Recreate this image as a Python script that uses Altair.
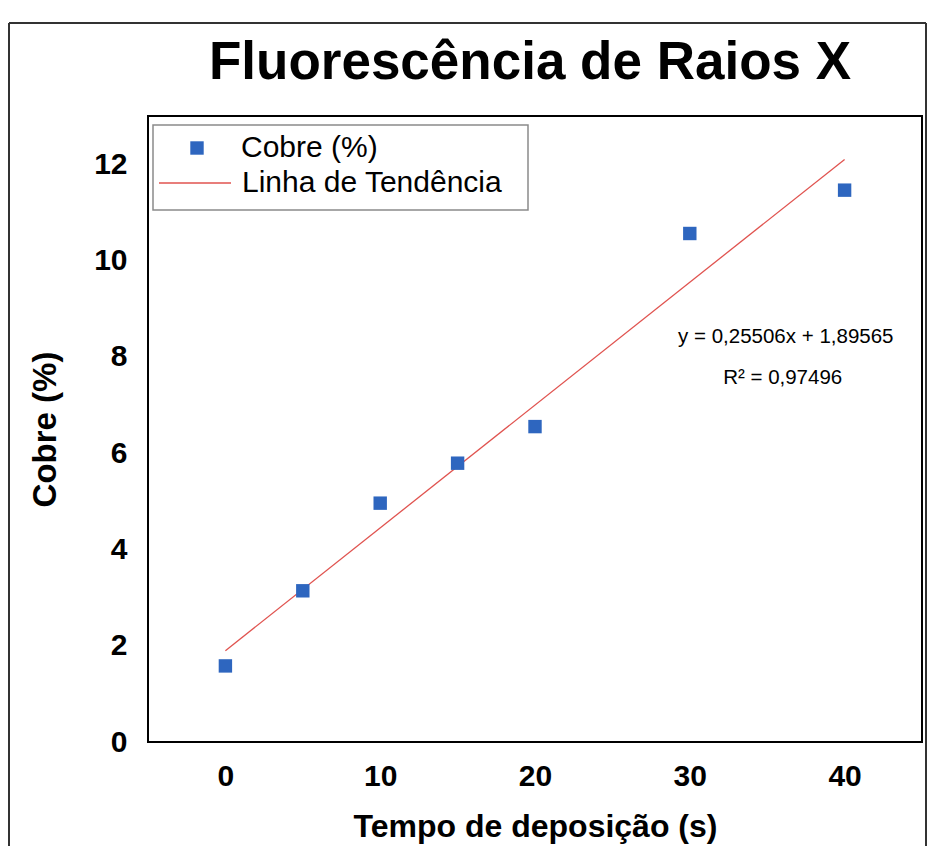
import altair as alt
import pandas as pd

# ---- data ----
tempo = [0, 5, 10, 15, 20, 30, 40]
cobre = [1.58, 3.14, 4.96, 5.79, 6.55, 10.56, 11.46]
trend_x = [0, 40]
trend_y = [1.89565, 12.09805]
eq_text = ["y = 0,25506x + 1,89565", "R² = 0,97496"]
eq_x = [36.2, 36.0]
eq_y = [8.41, 7.56]
x_ticks = [0, 10, 20, 30, 40]
y_ticks = [0, 2, 4, 6, 8, 10, 12]
series_pts = ["Cobre (%)"]
series_line = ["Linha de Tendência"]
chart_title = "Fluorescência de Raios X"

BLUE = "#2e66bf"
RED = "#e0534f"
FONT = "Liberation Sans"

W, H = 774, 626
PAD = {"left": 140, "top": 108, "right": 6, "bottom": 104}

pts = pd.DataFrame({"t": tempo, "c": cobre, "serie": series_pts[0]})
trend = pd.DataFrame({"t": trend_x, "c": trend_y, "serie": series_line[0]})
eq = pd.DataFrame({"t": eq_x, "c": eq_y, "txt": eq_text})
one = pd.DataFrame({"k": [0]})

xscale = alt.Scale(domain=[-5, 45], nice=False, zero=False)
yscale = alt.Scale(domain=[0, 13], nice=False)

x_enc = alt.X(
    "t:Q", scale=xscale, title="Tempo de deposição (s)",
    axis=alt.Axis(values=x_ticks, grid=False, ticks=False, domain=False,
                  labelFont=FONT, labelFontWeight="bold", labelFontSize=30,
                  labelColor="black", labelPadding=19,
                  titleFont=FONT, titleFontWeight="bold", titleFontSize=32,
                  titleColor="black", titlePadding=20),
)
y_enc = alt.Y(
    "c:Q", scale=yscale, title="Cobre (%)",
    axis=alt.Axis(values=y_ticks, grid=False, ticks=False, domain=False,
                  labelFont=FONT, labelFontWeight="bold", labelFontSize=30,
                  labelColor="black", labelPadding=21,
                  titleFont=FONT, titleFontWeight="bold", titleFontSize=33,
                  titleColor="black", titlePadding=31),
)

leg_common = dict(orient="none", title=None, labelFont=FONT, labelFontSize=30,
                  labelColor="black", padding=0, labelLimit=500)

points = alt.Chart(pts).mark_square(size=180, opacity=1, filled=True).encode(
    x=x_enc, y=y_enc,
    color=alt.Color("serie:N", scale=alt.Scale(domain=series_pts, range=[BLUE]),
                    legend=alt.Legend(legendX=34, legendY=17, symbolType="square",
                                      symbolSize=180, symbolOpacity=1,
                                      labelOffset=29, **leg_common)))

line = alt.Chart(trend).mark_line(strokeWidth=1.3).encode(
    x="t:Q", y="c:Q",
    color=alt.Color("serie:N", scale=alt.Scale(domain=series_line, range=[RED]),
                    legend=alt.Legend(legendX=10, legendY=30, symbolType="stroke",
                                      symbolSize=5184, symbolStrokeWidth=1.3,
                                      labelOffset=10, **leg_common)))

eq_marks = alt.Chart(eq).mark_text(font=FONT, fontSize=20.5, color="black",
                                   align="center", baseline="middle").encode(
    x="t:Q", y="c:Q", text="txt:N")

legend_box = alt.Chart(one).mark_rect(fill="white", stroke="#8a8a8a", strokeWidth=1.5).encode(
    x=alt.value(5), x2=alt.value(380), y=alt.value(9), y2=alt.value(94))

title_mark = alt.Chart(one).mark_text(
    text=chart_title, font=FONT, fontSize=53, fontWeight="bold", color="black",
    align="center", baseline="alphabetic").encode(
    x=alt.value(382), y=alt.value(-37))

frame_right_x = W + PAD["right"] - 2
frame_left = alt.Chart(one).mark_rule(color="#333", strokeWidth=2).encode(
    x=alt.value(-139), y=alt.value(-93), y2=alt.value(H + PAD["bottom"]))
frame_right = alt.Chart(one).mark_rule(color="#333", strokeWidth=2).encode(
    x=alt.value(frame_right_x), y=alt.value(-93), y2=alt.value(H + PAD["bottom"]))
frame_top = alt.Chart(one).mark_rule(color="#333", strokeWidth=2).encode(
    x=alt.value(-139), x2=alt.value(frame_right_x), y=alt.value(-93))

chart = alt.layer(
    frame_left, frame_right, frame_top, title_mark, legend_box,
    line, points, eq_marks,
).resolve_scale(color="independent").resolve_legend(color="independent").properties(
    width=W, height=H,
    autosize=alt.AutoSizeParams(type="none"),
    padding=PAD,
    background="white",
).configure_view(stroke="black", strokeWidth=2)

chart.save("out.html", embed_options={"renderer": "svg", "actions": False})
